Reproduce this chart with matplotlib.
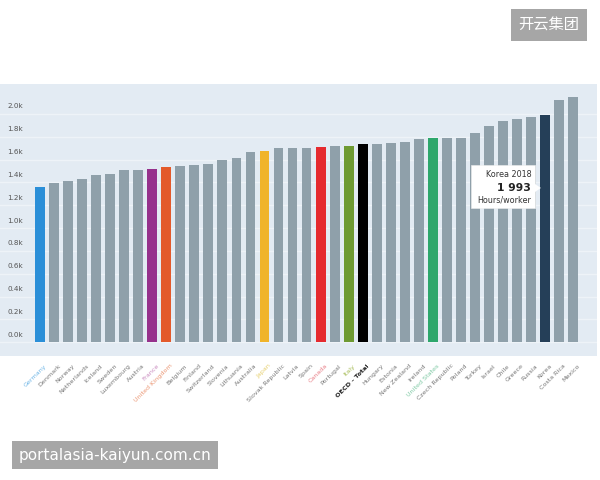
import matplotlib.pyplot as plt
from matplotlib.patches import FancyBboxPatch, Polygon
from matplotlib.transforms import blended_transform_factory

plt.rcParams["font.family"] = ["Noto Sans CJK SC", "DejaVu Sans"]

countries = [
    "Germany", "Denmark", "Norway", "Netherlands", "Iceland", "Sweden",
    "Luxembourg", "Austria", "France", "United Kingdom", "Belgium", "Finland",
    "Switzerland", "Slovenia", "Lithuania", "Australia", "Japan",
    "Slovak Republic", "Latvia", "Spain", "Canada", "Portugal", "Italy",
    "OECD - Total", "Hungary", "Estonia", "New Zealand", "Ireland",
    "United States", "Czech Republic", "Poland", "Turkey", "Israel", "Chile",
    "Greece", "Russia", "Korea", "Costa Rica", "Mexico",
]
hours = [
    1363, 1392, 1416, 1433, 1469, 1474, 1506, 1511, 1520, 1538, 1545, 1555,
    1561, 1601, 1616, 1665, 1680, 1698, 1699, 1701, 1708, 1722, 1723, 1734,
    1741, 1748, 1756, 1782, 1786, 1792, 1792, 1832, 1898, 1941, 1956, 1972,
    1993, 2121, 2148,
]
yticks = [0, 200, 400, 600, 800, 1000, 1200, 1400, 1600, 1800, 2000]
ytick_labels = ["0.0k", "0.2k", "0.4k", "0.6k", "0.8k", "1.0k", "1.2k",
                "1.4k", "1.6k", "1.8k", "2.0k"]

# highlighted bars: (bar colour, label colour)
highlight = {
    "Germany": ("#2b8fd8", "#6fb6e6"),
    "France": ("#96318c", "#c98bbf"),
    "United Kingdom": ("#e35a2b", "#eb9673"),
    "Japan": ("#f0b42a", "#e6cf6e"),
    "Canada": ("#e52a2f", "#e87e86"),
    "Italy": ("#6e9a32", "#a6bb55"),
    "OECD - Total": ("#000000", "#222222"),
    "United States": ("#2ea76c", "#7fc9a4"),
    "Korea": ("#253f58", "#777777"),
}
base_bar = "#8fa0aa"
base_label = "#777777"

fig = plt.figure(figsize=(6, 4.8), dpi=100)
ax = fig.add_axes([0, 0.258, 0.995, 0.567])
ax.set_facecolor("#e3ebf3")

x = list(range(len(countries)))
bar_colors = [highlight.get(c, (base_bar, None))[0] for c in countries]
ax.bar(x, hours, width=0.7, color=bar_colors, zorder=3)

ax.set_xlim(-2.85, 39.7)
ax.set_ylim(-123, 2263)
for y in yticks:
    ax.axhline(y, color="#eef3f8", linewidth=1.0, zorder=1)
ax.set_yticks([])
ax.set_xticks([])
for s in ax.spines.values():
    s.set_visible(False)

trans = blended_transform_factory(ax.transAxes, ax.transData)
for y, lab in zip(yticks, ytick_labels):
    ax.text(0.012, y + 40, lab, transform=trans, fontsize=5.2,
            color="#555555", ha="left", va="bottom", family="DejaVu Sans")

for i, c in enumerate(countries):
    col = highlight.get(c, (None, base_label))[1]
    weight = "bold" if c == "OECD - Total" else "normal"
    ax.text(i + 0.3, -185, c, rotation=45, fontsize=4.6, color=col,
            ha="right", va="top", rotation_mode="anchor",
            fontweight=weight, family="DejaVu Sans", clip_on=False)

# tooltip for Korea
ki = countries.index("Korea")
tip = FancyBboxPatch((0.789, 0.544), 0.107, 0.158,
                     boxstyle="square,pad=0", transform=ax.transAxes,
                     facecolor="white", edgecolor="#eeeeee", linewidth=0.4,
                     zorder=5)
ax.add_patch(tip)
arrow = Polygon([(0.896, 0.603), (0.906, 0.618), (0.896, 0.633)],
                closed=True, transform=ax.transAxes, facecolor="white",
                edgecolor="none", zorder=5)
ax.add_patch(arrow)
ax.text(0.89, 0.669, "Korea 2018", transform=ax.transAxes, fontsize=5.8,
        color="#333333", ha="right", va="center", zorder=6,
        family="DejaVu Sans")
ax.text(0.89, 0.618, f"{hours[ki] // 1000} {hours[ki] % 1000:03d}",
        transform=ax.transAxes, fontsize=7.8, fontweight="bold",
        color="#222222", ha="right", va="center", zorder=6,
        family="DejaVu Sans")
ax.text(0.89, 0.572, "Hours/worker", transform=ax.transAxes, fontsize=5.8,
        color="#333333", ha="right", va="center", zorder=6,
        family="DejaVu Sans")

# watermarks
fig.text(0.915, 0.948, "开云集团", fontsize=11, color="white",
         ha="center", va="center",
         bbox=dict(boxstyle="square,pad=0.5", facecolor="#a6a6a6",
                   edgecolor="none"))
fig.text(0.192, 0.052, "portalasia-kaiyun.com.cn", fontsize=11,
         color="white", ha="center", va="center", family="DejaVu Sans",
         bbox=dict(boxstyle="square,pad=0.45", facecolor="#a6a6a6",
                   edgecolor="none"))

fig.savefig("out.png", dpi=100)
